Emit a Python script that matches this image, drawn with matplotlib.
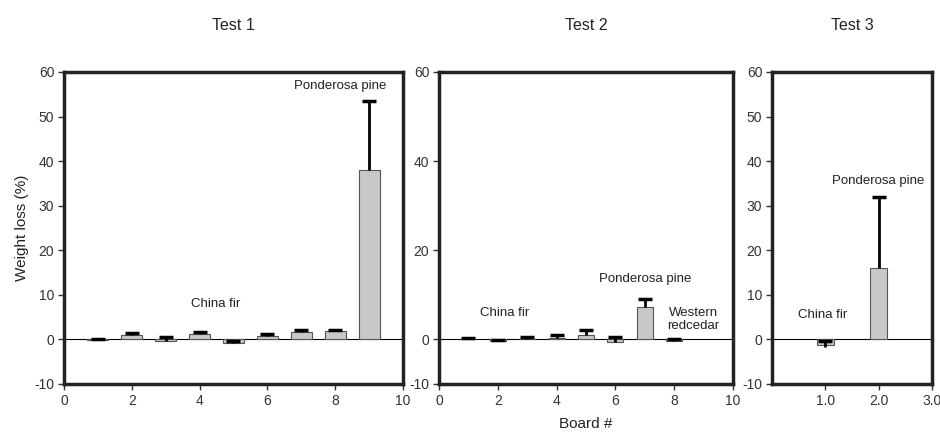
import matplotlib
matplotlib.use("Agg")
import matplotlib.pyplot as plt

plt.rcParams["font.family"] = ["Liberation Sans", "DejaVu Sans"]
plt.rcParams["axes.unicode_minus"] = False

# Test 1 - boards 1..9
t1_board = [1, 2, 3, 4, 5, 6, 7, 8, 9]
t1_loss = [-0.1, 1.0, -0.4, 1.3, -0.7, 0.7, 1.6, 1.8, 38.0]
t1_err = [0.3, 0.5, 0.9, 0.3, 0.4, 0.6, 0.5, 0.4, 15.5]

# Test 2 - boards 1..8
t2_board = [1, 2, 3, 4, 5, 6, 7, 8]
t2_loss = [0.1, -0.4, 0.1, 0.4, 1.0, -0.5, 7.3, -0.3]
t2_err = [0.3, 0.3, 0.4, 0.55, 1.2, 1.0, 1.7, 0.3]

# Test 3 - boards 1.0, 2.0
t3_board = [1.0, 2.0]
t3_loss = [-1.3, 16.0]
t3_err = [0.9, 16.0]
t3_err_low = [0.3, 0]

fig = plt.figure(figsize=(9.4, 4.36), dpi=100)

# axes positions from the reference layout
ax1 = fig.add_axes([0.0681, 0.1193, 0.3606, 0.7156])
ax2 = fig.add_axes([0.4670, 0.1193, 0.3128, 0.7156])
ax3 = fig.add_axes([0.8213, 0.1193, 0.1702, 0.7156])

bar_kw = dict(color="#c8c8c8", edgecolor="#555555", linewidth=0.8, zorder=2)
err_kw = dict(fmt="none", ecolor="black", elinewidth=2, capsize=5, capthick=2.5, zorder=3)


def bars(ax, x, y, up, low, width):
    ax.bar(x, y, width=width, **bar_kw)
    _, caps, _ = ax.errorbar(x, y, yerr=[low, up], **err_kw)
    caps[0].set_visible(False)  # only the upper cap is drawn


def style(ax, xlim, xticks, xlabels, yticks):
    ax.set_xlim(*xlim)
    ax.set_ylim(-10, 60)
    ax.set_xticks(xticks)
    ax.set_xticklabels(xlabels)
    ax.set_yticks(yticks)
    ax.axhline(0, color="black", linewidth=0.8, zorder=1)
    for s in ax.spines.values():
        s.set_linewidth(2.5)
        s.set_color("#222222")
    ax.tick_params(direction="out", length=4, width=1, labelsize=10,
                   colors="#333333", pad=3)


# Test 1
bars(ax1, t1_board, t1_loss, t1_err, [0] * len(t1_err), 0.62)
style(ax1, (0, 10), [0, 2, 4, 6, 8, 10], ["0", "2", "4", "6", "8", "10"],
      range(-10, 61, 10))
ax1.text(4.48, 7.9, "China fir", ha="center", va="center", fontsize=9.5, color="#222222")
ax1.text(8.14, 56.9, "Ponderosa pine", ha="center", va="center", fontsize=9.5, color="#222222")
ax1.set_title("Test 1", fontsize=11.5, pad=30, color="#222222")
ax1.set_ylabel("Weight loss (%)", fontsize=11, color="#222222", labelpad=4)

# Test 2
bars(ax2, t2_board, t2_loss, t2_err, [0] * len(t2_err), 0.54)
style(ax2, (0, 10), [0, 2, 4, 6, 8, 10], ["0", "2", "4", "6", "8", "10"],
      [-10, 0, 20, 40, 60])
ax2.text(2.24, 5.9, "China fir", ha="center", va="center", fontsize=9.5, color="#222222")
ax2.text(7.0, 13.5, "Ponderosa pine", ha="center", va="center", fontsize=9.5, color="#222222")
ax2.text(8.65, 4.4, "Western\nredcedar", ha="center", va="center", fontsize=9.5,
         color="#222222", linespacing=1.1)
ax2.set_title("Test 2", fontsize=11.5, pad=30, color="#222222")
ax2.set_xlabel("Board #", fontsize=11, color="#222222", labelpad=7)

# Test 3
bars(ax3, t3_board, t3_loss, t3_err, t3_err_low, 0.32)
style(ax3, (0, 3), [1.0, 2.0, 3.0], ["1.0", "2.0", "3.0"], range(-10, 61, 10))
ax3.text(0.94, 5.4, "China fir", ha="center", va="center", fontsize=9.5, color="#222222")
ax3.text(2.0, 35.5, "Ponderosa pine", ha="center", va="center", fontsize=9.5, color="#222222")
ax3.set_title("Test 3", fontsize=11.5, pad=30, color="#222222")

fig.savefig("out.png", dpi=100)
